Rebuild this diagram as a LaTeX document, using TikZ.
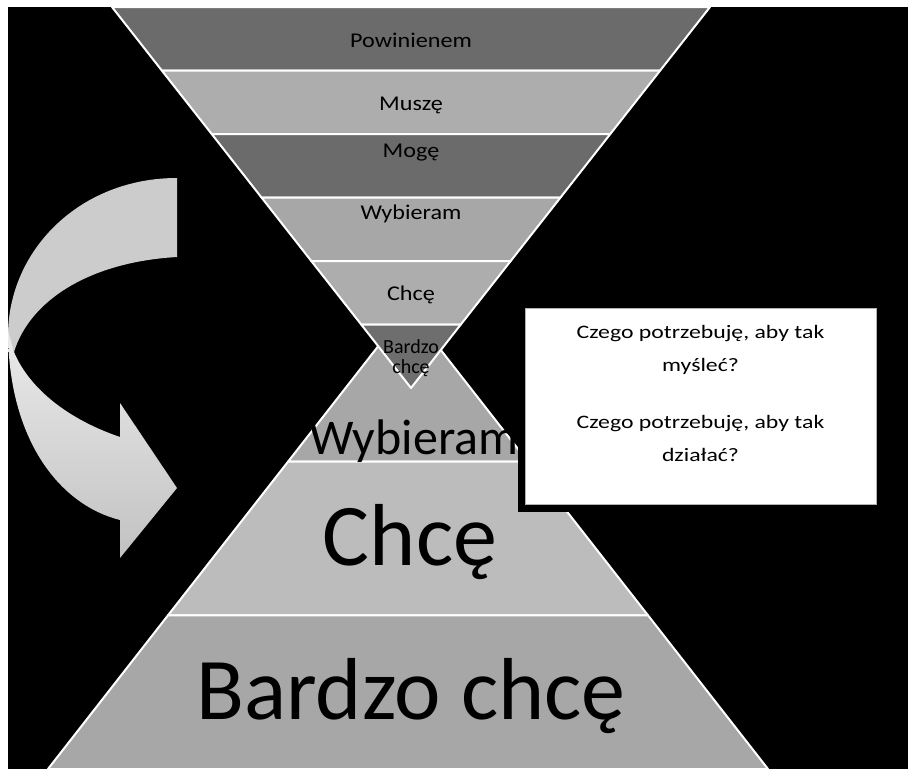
\documentclass[tikz,border=0pt]{standalone}
\usepackage{fontspec}
\setmainfont{Carlito}
\newfontfamily\widefont[FakeStretch=1.15]{Carlito}
\newfontfamily\boxfont[FakeStretch=1.25]{Carlito}
\usetikzlibrary{positioning,shadows}

\definecolor{darkband}{HTML}{6B6B6B}
\definecolor{lightband}{HTML}{ADADAD}
\definecolor{midband}{HTML}{A7A7A7}
\definecolor{paleband}{HTML}{BCBCBC}
\definecolor{tipband}{HTML}{6E6E6E}

\begin{document}
\begin{tikzpicture}[x=1pt,y=-1pt,
		band/.style={draw=white, line width=2pt, line join=round},
		toplbl/.style={font=\widefont\fontsize{21}{22}\selectfont, anchor=base, inner sep=0pt},
		tiplbl/.style={font=\fontsize{20}{20}\selectfont, anchor=base, inner sep=0pt},
		bottomlbl/.style={font=\fontsize{88}{90}\selectfont, anchor=base, inner sep=0pt},
		asklbl/.style={font=\boxfont\fontsize{19}{20}\selectfont, anchor=base, inner sep=0pt},
		askbox/.style={draw=gray!60, fill=white, minimum width=351pt, minimum height=196pt,
			inner sep=0pt, general shadow={fill=black, shadow xshift=-7pt, shadow yshift=-8pt}}]
		\useasboundingbox (0,0) rectangle (908,769);
		\fill[white] (0,0) rectangle (908,769);
		\fill[black] (8,7) rectangle (908,769);
		
		% lower pyramid
		\filldraw[band, fill=midband] (408,308) -- (528,461.7) -- (288,461.7) -- cycle;
		\filldraw[band, fill=paleband] (288,461.7) -- (528,461.7) -- (648,615.3) -- (168,615.3) -- cycle;
		\filldraw[band, fill=midband] (168,615.3) -- (648,615.3) -- (768,769) -- (48,769) -- cycle;
		
		% upper pyramid
		\filldraw[band, fill=darkband] (112,7) -- (710,7) -- (660.2,70.5) -- (161.8,70.5) -- cycle;
		\filldraw[band, fill=lightband] (161.8,70.5) -- (660.2,70.5) -- (610.3,134) -- (211.7,134) -- cycle;
		\filldraw[band, fill=darkband] (211.7,134) -- (610.3,134) -- (560.5,197.5) -- (261.5,197.5) -- cycle;
		\filldraw[band, fill=midband] (261.5,197.5) -- (560.5,197.5) -- (510.7,261) -- (311.3,261) -- cycle;
		\filldraw[band, fill=lightband] (311.3,261) -- (510.7,261) -- (460.8,324.5) -- (361.2,324.5) -- cycle;
		\filldraw[band, fill=tipband] (361.2,324.5) -- (460.8,324.5) -- (411,388) -- cycle;
		
		% curved arrow
		\fill[black!20] (177,178) -- (177,257) .. controls (90,262) and (30,300) .. (14,352)
			-- (8,336) .. controls (8,250) and (80,178) .. (177,178);
		\shade[top color=black!8, bottom color=black!24] (8,330) .. controls (8,440) and (60,505) .. (120,520)
			-- (120,558) -- (177,488) -- (120,403) -- (120,437) .. controls (70,420) and (30,390) .. (14,352) -- cycle;
		
		\node (powinienem) at (411,47) [toplbl] {Powinienem};
		\node (musze) at (411,110) [toplbl] {Muszę};
		\node (moge) at (411,157) [toplbl] {Mogę};
		\node (wybieram1) at (411,219) [toplbl] {Wybieram};
		\node (chce1) at (411,300) [toplbl] {Chcę};
		\node (bardzo1) at (411,353) [tiplbl] {Bardzo};
		\node (bardzo2) at (411,373) [tiplbl] {chcę};
		
		\node (wybieram2) at (414,454) [bottomlbl, font=\fontsize{50}{52}\selectfont] {Wybieram};
		\node (chce2) at (410,565) [bottomlbl] {Chcę};
		\node (bardzochce) at (411,719) [bottomlbl] {Bardzo chcę};
		
		\node (pytania) at (700.5,406) [askbox] {};
		\node (mysl1) at (700.5,338) [asklbl] {Czego potrzebuję, aby tak};
		\node (mysl2) at (700.5,371) [asklbl] {myśleć?};
		\node (dzial1) at (700.5,428) [asklbl] {Czego potrzebuję, aby tak};
		\node (dzial2) at (700.5,461) [asklbl] {działać?};
		\end{tikzpicture}
\end{document}
